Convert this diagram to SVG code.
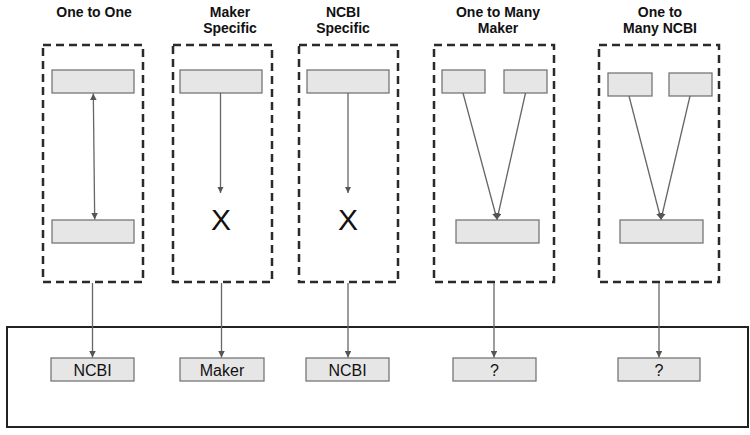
<svg xmlns="http://www.w3.org/2000/svg" width="750" height="435" viewBox="0 0 750 435">
<style>
.title{font-family:"Liberation Sans",Arial,sans-serif;font-weight:bold;font-size:14px;fill:#111;text-anchor:middle}
.dash{fill:none;stroke:#2a2a2a;stroke-width:2.5;stroke-dasharray:8 5}
.box{fill:#e6e6e6;stroke:#777;stroke-width:1.3}
.lbl{font-family:"Liberation Sans",Arial,sans-serif;font-size:16px;fill:#111;text-anchor:middle}
.x{font-family:"Liberation Sans",Arial,sans-serif;font-size:30px;fill:#111;text-anchor:middle}
.con{stroke:#666;stroke-width:1.3;fill:none}
</style>
<defs>
<marker id="ah" viewBox="0 0 10 10" refX="10" refY="5" markerWidth="5" markerHeight="5" orient="auto-start-reverse">
<path d="M0,0 L10,5 L0,10 z" fill="#555"/>
</marker>
</defs>
<rect width="750" height="435" fill="#fff"/>
<g id="titles">
<text class="title" x="94" y="17">One to One</text>
<text class="title" x="230" y="17">Maker</text>
<text class="title" x="230" y="33">Specific</text>
<text class="title" x="343" y="17">NCBI</text>
<text class="title" x="343" y="33">Specific</text>
<text class="title" x="498" y="17">One to Many</text>
<text class="title" x="498" y="33">Maker</text>
<text class="title" x="660" y="17">One to</text>
<text class="title" x="660" y="33">Many NCBI</text>
</g>
<g id="group1">
<rect class="dash" x="43" y="45" width="100" height="237"/>
<rect class="box" x="52" y="70" width="82" height="23"/>
<rect class="box" x="52" y="220" width="82" height="23"/>
</g>
<g id="group2">
<rect class="dash" x="173" y="45" width="99" height="237"/>
<rect class="box" x="180" y="70" width="82" height="23"/>
<text class="x" x="221" y="230">X</text>
</g>
<g id="group3">
<rect class="dash" x="299" y="45" width="99" height="237"/>
<rect class="box" x="307" y="70" width="82" height="23"/>
<text class="x" x="348" y="230">X</text>
</g>
<g id="group4">
<rect class="dash" x="434" y="45" width="120" height="237"/>
<rect class="box" x="442" y="70" width="43" height="23"/>
<rect class="box" x="504" y="70" width="43" height="23"/>
<rect class="box" x="456" y="220" width="83" height="23"/>
</g>
<g id="group5">
<rect class="dash" x="599" y="45" width="120" height="237"/>
<rect class="box" x="608" y="73" width="44" height="23"/>
<rect class="box" x="669" y="73" width="43" height="23"/>
<rect class="box" x="620" y="220" width="83" height="23"/>
</g>
<g id="result">
<rect x="7" y="327" width="741" height="100" fill="none" stroke="#222" stroke-width="2"/>
<g id="r1"><rect class="box" x="51" y="358" width="83" height="23"/><text class="lbl" x="92.5" y="375.5">NCBI</text></g>
<g id="r2"><rect class="box" x="180" y="358" width="84" height="23"/><text class="lbl" x="222" y="375.5">Maker</text></g>
<g id="r3"><rect class="box" x="306" y="358" width="83" height="23"/><text class="lbl" x="347.5" y="375.5">NCBI</text></g>
<g id="r4"><rect class="box" x="453" y="358" width="83" height="23"/><text class="lbl" x="494.5" y="375.5">?</text></g>
<g id="r5"><rect class="box" x="618" y="358" width="82" height="23"/><text class="lbl" x="659" y="375.5">?</text></g>
</g>
<g id="connectors">
<line class="con" x1="93.3" y1="93.5" x2="94.7" y2="219.5" marker-start="url(#ah)" marker-end="url(#ah)"/>
<line class="con" x1="220.5" y1="93" x2="220.5" y2="193" marker-end="url(#ah)"/>
<line class="con" x1="348" y1="93" x2="348" y2="193" marker-end="url(#ah)"/>
<line class="con" x1="463" y1="93" x2="497" y2="219.5" marker-end="url(#ah)"/>
<line class="con" x1="525.5" y1="93" x2="497" y2="219.5" marker-end="url(#ah)"/>
<line class="con" x1="629" y1="96" x2="661" y2="219.5" marker-end="url(#ah)"/>
<line class="con" x1="690" y1="96" x2="661" y2="219.5" marker-end="url(#ah)"/>
<line class="con" x1="92.5" y1="283" x2="92.5" y2="357.5" marker-end="url(#ah)"/>
<line class="con" x1="221.5" y1="283" x2="221.5" y2="357.5" marker-end="url(#ah)"/>
<line class="con" x1="348" y1="283" x2="348" y2="357.5" marker-end="url(#ah)"/>
<line class="con" x1="494" y1="283" x2="494" y2="357.5" marker-end="url(#ah)"/>
<line class="con" x1="659" y1="283" x2="659" y2="357.5" marker-end="url(#ah)"/>
</g>
</svg>
